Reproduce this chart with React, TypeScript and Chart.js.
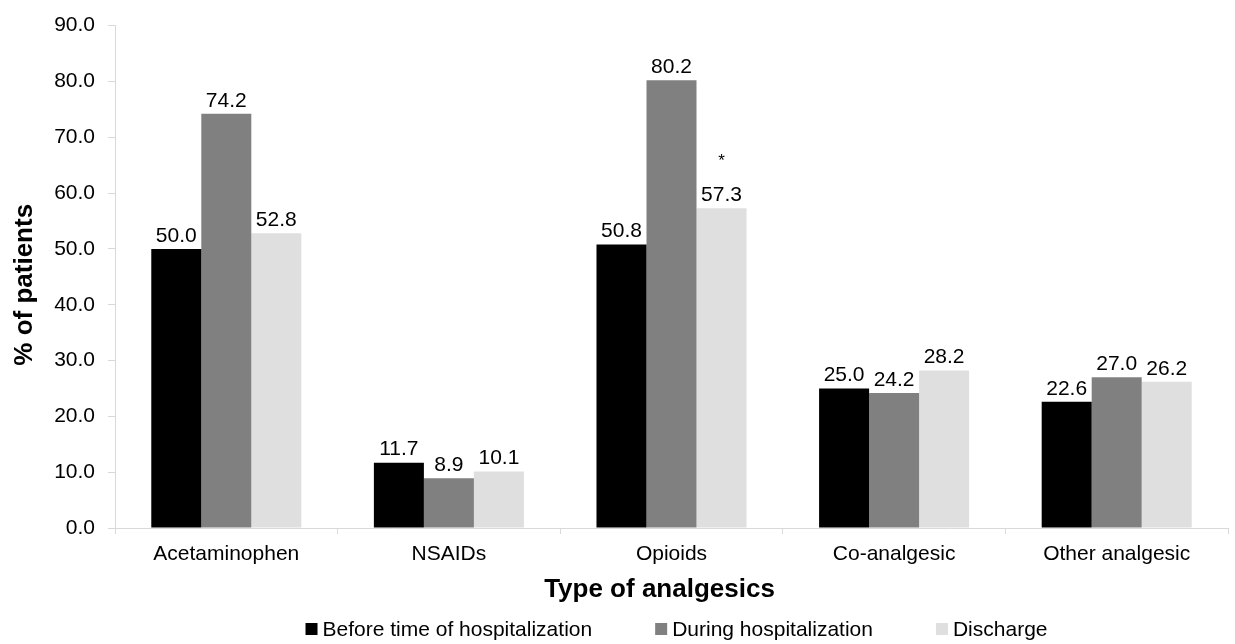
import React, { useEffect, useRef } from "react";
import { Chart, registerables } from "chart.js";

Chart.register(...registerables);

const categories = ["Acetaminophen", "NSAIDs", "Opioids", "Co-analgesic", "Other analgesic"];
const seriesNames = ["Before time of hospitalization", "During hospitalization", "Discharge"];
const beforeValues = [50.0, 11.7, 50.8, 25.0, 22.6];
const duringValues = [74.2, 8.9, 80.2, 24.2, 27.0];
const dischargeValues = [52.8, 10.1, 57.3, 28.2, 26.2];
const dischargeMarks = ["", "", "*", "", ""];
const seriesColors = ["#000000", "#808080", "#dfdfdf"];
const yMin = 0;
const yMax = 90;
const yStep = 10;
const yTitle = "% of patients";
const xTitle = "Type of analgesics";

const FONT = "'Liberation Sans', Arial, Helvetica, sans-serif";

export default function App() {
  const ref = useRef<HTMLCanvasElement | null>(null);

  useEffect(() => {
    document.body.style.margin = "0";
    const canvas = ref.current;
    if (!canvas) return;

    const overlay = {
      id: "overlay",
      afterDatasetsDraw(chart: any) {
        const ctx = chart.ctx;
        ctx.save();
        ctx.fillStyle = "#000";
        ctx.textAlign = "center";
        ctx.textBaseline = "middle";
        ctx.font = `21px ${FONT}`;
        chart.data.datasets.forEach((ds: any, i: number) => {
          const meta = chart.getDatasetMeta(i);
          meta.data.forEach((bar: any, j: number) => {
            const v = ds.data[j] as number;
            ctx.fillText(v.toFixed(1), bar.x, bar.y - 13);
          });
        });
        const meta2 = chart.getDatasetMeta(2);
        ctx.font = `17px ${FONT}`;
        meta2.data.forEach((bar: any, j: number) => {
          if (dischargeMarks[j]) ctx.fillText(dischargeMarks[j], bar.x, bar.y - 47);
        });
        ctx.restore();
      },
      afterDraw(chart: any) {
        const ctx = chart.ctx;
        const area = chart.chartArea;
        ctx.save();
        ctx.fillStyle = "#000";
        ctx.font = `bold 26px ${FONT}`;
        ctx.textAlign = "center";
        ctx.textBaseline = "middle";
        ctx.fillText(xTitle, (area.left + area.right) / 2 - 12, 590);
        ctx.save();
        ctx.translate(25, (area.top + area.bottom) / 2 + 8);
        ctx.rotate(-Math.PI / 2);
        ctx.fillText(yTitle, 0, 0);
        ctx.restore();
        ctx.font = `21px ${FONT}`;
        const box = 12;
        const gapBox = 5;
        const gapItem = 63;
        const widths = seriesNames.map((n) => ctx.measureText(n).width);
        const total =
          widths.reduce((a, b) => a + b, 0) + seriesNames.length * (box + gapBox) + gapItem * (seriesNames.length - 1);
        let x = (area.left + area.right) / 2 + 5 - total / 2;
        const y = 629;
        ctx.textAlign = "left";
        seriesNames.forEach((n, i) => {
          ctx.fillStyle = seriesColors[i];
          ctx.fillRect(x, y - box / 2, box, box);
          ctx.fillStyle = "#000";
          ctx.fillText(n, x + box + gapBox, y + 1);
          x += box + gapBox + widths[i] + gapItem;
        });
        ctx.restore();
      },
    };

    const chart = new Chart(canvas, {
      type: "bar",
      data: {
        labels: categories,
        datasets: [beforeValues, duringValues, dischargeValues].map((d, i) => ({
          label: seriesNames[i],
          data: d,
          backgroundColor: seriesColors[i],
          borderWidth: 0,
          barPercentage: 1,
          categoryPercentage: 0.674,
        })),
      },
      options: {
        responsive: false,
        animation: false,
        devicePixelRatio: 1,
        layout: { padding: { top: 20, right: 7, left: 0, bottom: 0 } },
        plugins: {
          legend: { display: false },
          tooltip: { enabled: false },
        },
        scales: {
          x: {
            grid: {
              offset: true,
              drawOnChartArea: false,
              drawTicks: true,
              tickLength: 6,
              color: "#d9d9d9",
              lineWidth: 1,
            },
            border: { display: true, color: "#d9d9d9", width: 1 },
            ticks: {
              color: "#000",
              font: { family: FONT, size: 21 },
              padding: 8,
              maxRotation: 0,
              autoSkip: false,
            },
            afterFit: (scale: any) => {
              scale.height = 116;
            },
          },
          y: {
            min: yMin,
            max: yMax,
            grid: {
              drawOnChartArea: false,
              drawTicks: true,
              tickLength: 7,
              color: "#d9d9d9",
              lineWidth: 1,
            },
            border: { display: true, color: "#d9d9d9", width: 1 },
            ticks: {
              stepSize: yStep,
              color: "#000",
              font: { family: FONT, size: 21 },
              padding: 13,
              callback: (v: any) => Number(v).toFixed(1),
            },
            afterFit: (scale: any) => {
              scale.width = 115;
            },
          },
        },
      },
      plugins: [overlay],
    });

    return () => chart.destroy();
  }, []);

  return (
    <div style={{ width: 1235, height: 644, background: "#fff" }}>
      <canvas ref={ref} width={1235} height={644} style={{ width: 1235, height: 644, display: "block" }} />
    </div>
  );
}
